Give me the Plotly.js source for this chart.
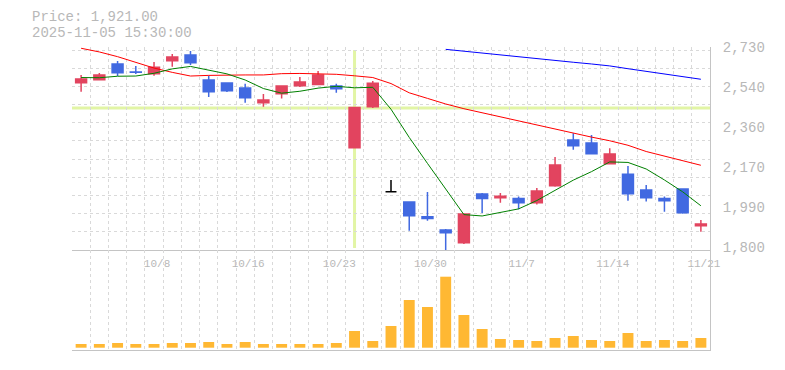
<!DOCTYPE html>
<html><head><meta charset="utf-8">
<script src="https://cdn.plot.ly/plotly-3.0.1.min.js"></script>
<style>html,body{margin:0;padding:0;background:#fff}#chart{width:785px;height:370px}</style>
</head><body><div id="chart"></div>
<script>
// ---- data ----
const dates = ['10/2','10/3','10/6','10/7','10/8','10/9','10/10','10/14','10/15','10/16','10/17','10/20','10/21','10/22','10/23','10/24','10/27','10/28','10/29','10/30','10/31','11/4','11/5','11/6','11/7','11/10','11/11','11/12','11/13','11/14','11/17','11/18','11/19','11/20','11/21'];
const labelDates = ['10/8','10/16','10/23','10/30','11/7','11/14','11/21'];
const openP  = [2578,2592,2665,2628,2620,2680,2707,2590,2577,2553,2485,2527,2564,2569,2563,2276,2466,2071,2023,1955,1893,1834,2060,2043,2040,2020,2099,2312,2298,2201,2152,2079,2040,2084,1913];
const highP  = [2614,2623,2679,2656,2674,2711,2725,2610,2577,2573,2525,2563,2604,2632,2573,2463,2586,2125,2023,2070,1898,1967,2065,2065,2049,2088,2232,2343,2335,2273,2191,2102,2049,2084,1940];
const lowP   = [2536,2590,2609,2618,2610,2652,2660,2511,2535,2485,2466,2504,2558,2569,2531,2276,2460,2071,1890,1936,1797,1828,1972,2020,1989,2011,2094,2266,2248,2197,2029,2025,1978,1969,1885];
const closeP = [2595,2614,2624,2626,2650,2697,2671,2536,2541,2508,2498,2563,2581,2614,2550,2463,2575,2071,1959,1946,1880,1967,2039,2050,2020,2074,2195,2285,2248,2246,2062,2043,2029,1973,1921];
const volume = [37000,37000,47000,37000,37000,47000,47000,57000,37000,57000,37000,37000,37000,37000,47000,167000,67000,217000,477000,407000,710000,327000,187000,87000,77000,67000,97000,117000,77000,67000,147000,67000,77000,67000,97000];
const ma5  = [2602,2601,2608,2609,2621.8,2642.2,2653.6,2636,2619,2590.6,2550.8,2529.2,2538.2,2552.8,2561.2,2554.2,2556.6,2454.6,2323.6,2202.8,2086.2,1964.6,1958.2,1976.4,1991.2,2030,2075.6,2124.8,2164.4,2209.6,2207.2,2176.8,2125.6,2070.6,2005.6];
const ma25 = [2738,2721,2699,2674,2646,2626,2609,2612,2614,2614,2614,2620,2621,2619,2617,2610,2602,2574,2531,2505,2479,2457,2438,2418,2398,2380,2361,2343,2325,2308,2287,2258,2236,2215,2194];
const ma75 = [null,null,null,null,null,null,null,null,null,null,null,null,null,null,null,null,null,null,null,null,2733,2724,2715,2707,2699,2690,2680,2673,2665,2656,2643,2631,2618,2606,2594];
const priceTicks = [1800,1986,2172,2358,2544,2730];
const priceTickText = ['1,800','1,990','2,170','2,360','2,540','2,730'];
const headerPrice = 'Price: 1,921.00';
const headerTime = '2025-11-05 15:30:00';
const crossDate = '10/24';
const crossPrice = 2460;

// ---- styles ----
const RED = '#e2445f', BLUE = '#4169e1', BLACK = '#000000', VOL = '#ffb833';
const GRID = '#d9d9d9', AXIS = '#c4c4c4', TXT = '#b8b8b8';
const FONT = 'Liberation Mono, DejaVu Sans Mono, monospace';

const idx = dates.map((d, i) => i);
const n = dates.length;
function subset(cond) {
  const s = idx.filter(cond);
  return { x: s, open: s.map(i => openP[i]), high: s.map(i => highP[i]), low: s.map(i => lowP[i]), close: s.map(i => closeP[i]) };
}
function candle(sub, col) {
  return Object.assign({
    type: 'candlestick', xaxis: 'x', yaxis: 'y', whiskerwidth: 0, hoverinfo: 'skip', showlegend: false,
    increasing: { line: { color: col, width: 1.5 }, fillcolor: col },
    decreasing: { line: { color: col, width: 1.5 }, fillcolor: col }
  }, sub);
}
const upS = subset(i => closeP[i] > openP[i]);
const dnS = subset(i => closeP[i] < openP[i]);
const flS = subset(i => closeP[i] === openP[i]);

const line = (y, col) => ({ type: 'scatter', mode: 'lines', x: idx, y: y, xaxis: 'x', yaxis: 'y',
  line: { color: col, width: 1 }, hoverinfo: 'skip', showlegend: false, connectgaps: false });

const traces = [
  { type: 'bar', x: idx, y: volume, xaxis: 'x2', yaxis: 'y2', width: 0.6, marker: { color: VOL, line: { width: 0 } }, hoverinfo: 'skip', showlegend: false },
  line(ma75, '#0000ff'),
  line(ma25, '#ff0000'),
  line(ma5, '#008000'),
  candle(upS, RED),
  candle(dnS, BLUE),
  candle(flS, BLACK)
];

// grid positions (decoration)
const gridX = []; for (let k = 0; k <= n; k++) gridX.push(k - 0.5 + 0.0001);
const gridY = []; for (let k = 0; k <= 11; k++) gridY.push(1800 + k * (2730 - 1800) / 11 + 0.01);

const plotTop = 47, plotBottom = 350, priceBottom = 250, H = 370;
const split = (plotBottom - priceBottom) / (plotBottom - plotTop);
const pxPerUnit = 200 / (2730 - 1800);
const priceMax = 1800 + (priceBottom - plotTop) / pxPerUnit;

const minorX = { tickmode: 'array', tickvals: gridX, showgrid: true, gridcolor: GRID, griddash: '3px,3px', gridwidth: 1, ticks: '' };

const layout = {
  width: 785, height: 370,
  margin: { l: 72, r: 75, t: plotTop, b: H - plotBottom, pad: 0 },
  paper_bgcolor: '#ffffff', plot_bgcolor: '#ffffff',
  showlegend: false, hovermode: false, dragmode: false,
  boxgap: 0.4, boxgroupgap: 0, boxmode: 'overlay',
  font: { family: FONT, color: TXT },
  xaxis: {
    domain: [0, 1], anchor: 'y', range: [-0.5, n - 0.5], type: 'linear',
    tickmode: 'array', tickvals: labelDates.map(d => dates.indexOf(d)), ticktext: labelDates,
    showgrid: false, zeroline: false, showline: true, linecolor: AXIS, linewidth: 1,
    ticks: '', ticklabelstandoff: 3, ticklabelshift: 3,
    tickfont: { family: FONT, size: 11, color: TXT },
    minor: minorX, rangeslider: { visible: false }, fixedrange: true
  },
  xaxis2: {
    domain: [0, 1], anchor: 'y2', matches: 'x', range: [-0.5, n - 0.5], type: 'linear',
    showticklabels: false, showgrid: false, zeroline: false, showline: true, linecolor: AXIS, linewidth: 1,
    ticks: '', minor: minorX, rangeslider: { visible: false }, fixedrange: true
  },
  yaxis: {
    domain: [split, 1], anchor: 'x', side: 'right', range: [1800, priceMax],
    tickmode: 'array', tickvals: priceTicks, ticktext: priceTickText,
    showgrid: false, zeroline: false, showline: true, linecolor: AXIS, linewidth: 1,
    ticks: '', ticklabelstandoff: 9, ticklabelshift: -3,
    tickfont: { family: FONT, size: 14, color: TXT },
    minor: { tickmode: 'array', tickvals: gridY, showgrid: true, gridcolor: GRID, griddash: '3px,3px', gridwidth: 1, ticks: '' },
    fixedrange: true
  },
  yaxis2: {
    domain: [0, split], anchor: 'x2', side: 'right', range: [-23000, 977000],
    showticklabels: false, showgrid: false, zeroline: false, showline: true, linecolor: AXIS, linewidth: 1,
    ticks: '', fixedrange: true
  },
  shapes: [
    { type: 'line', layer: 'below', xref: 'x', yref: 'y domain', x0: dates.indexOf(crossDate), x1: dates.indexOf(crossDate), y0: 0.01, y1: 0.985,
      line: { color: '#e2f5a5', width: 3 } },
    { type: 'line', layer: 'below', xref: 'x domain', yref: 'y', x0: 0, x1: 1, y0: crossPrice, y1: crossPrice,
      line: { color: '#e2f5a5', width: 3 } }
  ],
  annotations: [
    { text: headerPrice, xref: 'paper', yref: 'paper', x: (30 - 72) / 638, y: (plotBottom - 17) / (plotBottom - plotTop),
      xanchor: 'left', yanchor: 'middle', showarrow: false, font: { family: FONT, size: 14, color: TXT } },
    { text: headerTime, xref: 'paper', yref: 'paper', x: (30 - 72) / 638, y: (plotBottom - 33) / (plotBottom - plotTop),
      xanchor: 'left', yanchor: 'middle', showarrow: false, font: { family: FONT, size: 14, color: TXT } }
  ]
};

Plotly.newPlot('chart', traces, layout, { displayModeBar: false, staticPlot: true });
</script>
</body></html>
